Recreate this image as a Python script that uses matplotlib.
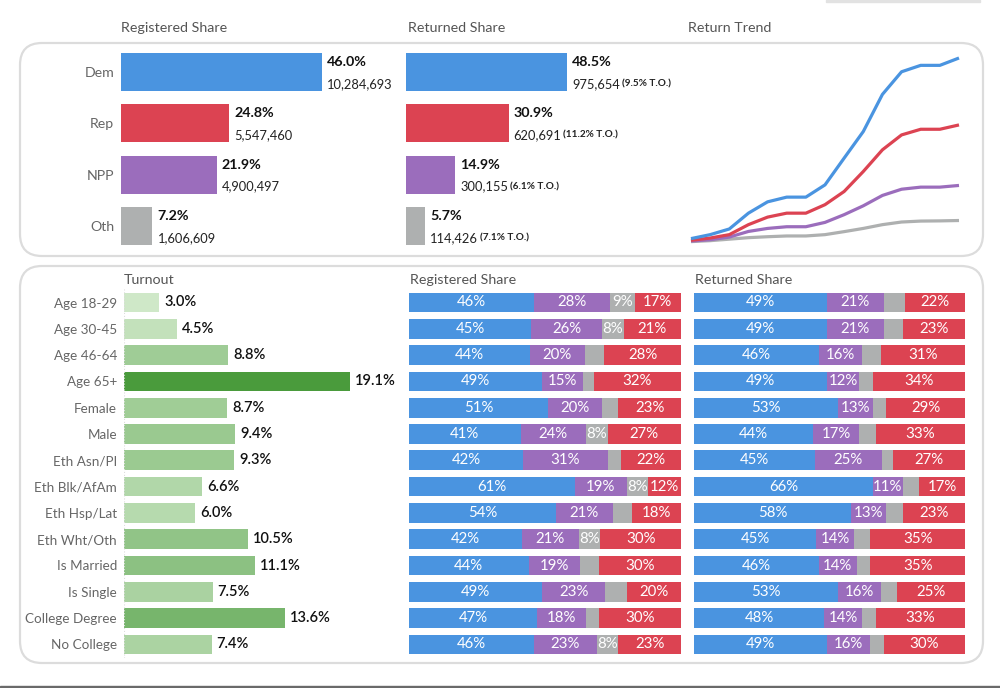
import numpy as np
import matplotlib
matplotlib.use('Agg')
import matplotlib.pyplot as plt
from matplotlib.patches import FancyBboxPatch, Rectangle
from matplotlib.transforms import IdentityTransform

plt.rcParams['font.family'] = ['Lato', 'DejaVu Sans']

W, H = 1000, 688

# ---- data ----
parties = ['Dem', 'Rep', 'NPP', 'Oth']
party_colors = ['#4A94E0', '#DC4352', '#9B6DBC', '#AEB0B0']

reg_share = [46.0, 24.8, 21.9, 7.2]
reg_count = [10284693, 5547460, 4900497, 1606609]
ret_share = [48.5, 30.9, 14.9, 5.7]
ret_count = [975654, 620691, 300155, 114426]
ret_turnout = [9.5, 11.2, 6.1, 7.1]

# cumulative returned ballots (thousands)
trend_dem = [18, 39, 69, 153, 213, 238, 238, 303, 445, 586, 783, 903, 937, 937, 976]
trend_rep = [9, 21, 39, 92, 132, 153, 153, 198, 268, 374, 489, 568, 598, 598, 621]
trend_npp = [5, 12, 26, 56, 72, 81, 81, 104, 145, 192, 247, 280, 291, 291, 300]
trend_oth = [2, 7, 15, 23, 28, 32, 32, 39, 55, 72, 92, 106, 111, 112, 114]

groups = ['Age 18-29', 'Age 30-45', 'Age 46-64', 'Age 65+', 'Female', 'Male',
          'Eth Asn/PI', 'Eth Blk/AfAm', 'Eth Hsp/Lat', 'Eth Wht/Oth',
          'Is Married', 'Is Single', 'College Degree', 'No College']
turnout = [3.0, 4.5, 8.8, 19.1, 8.7, 9.4, 9.3, 6.6, 6.0, 10.5, 11.1, 7.5, 13.6, 7.4]

reg_dem = [46, 45, 44, 49, 51, 41, 42, 61, 54, 42, 44, 49, 47, 46]
reg_npp = [28, 26, 20, 15, 20, 24, 31, 19, 21, 21, 19, 23, 18, 23]
reg_oth = [9, 8, 7, 4, 6, 8, 5, 8, 7, 8, 7, 8, 5, 8]
reg_rep = [17, 21, 28, 32, 23, 27, 22, 12, 18, 30, 30, 20, 30, 23]
reg_oth_shown = [True, True, False, False, False, True, False, True, False, True,
                 False, False, False, True]

ret_dem = [49, 49, 46, 49, 53, 44, 45, 66, 58, 45, 46, 53, 48, 49]
ret_npp = [21, 21, 16, 12, 13, 17, 25, 11, 13, 14, 14, 16, 14, 16]
ret_oth = [8, 7, 7, 5, 5, 6, 4, 6, 6, 6, 5, 6, 5, 5]
ret_rep = [22, 23, 31, 34, 29, 33, 27, 17, 23, 35, 35, 25, 33, 30]
ret_oth_shown = [False] * 14

fig = plt.figure(figsize=(W / 100, H / 100), dpi=100)
fig.patch.set_facecolor('white')


def px_axes(left, right, top, bottom):
    return fig.add_axes([left / W, 1 - bottom / H, (right - left) / W, (bottom - top) / H])


def row_axes(left, right, first, pitch, n):
    ax = px_axes(left, right, first - pitch / 2, first + (n - 0.5) * pitch)
    ax.set_ylim(n - 0.5, -0.5)
    for s in ax.spines.values():
        s.set_visible(False)
    ax.set_xticks([])
    ax.tick_params(axis='y', length=0)
    ax.patch.set_alpha(0)
    return ax


def panel(x0, y0, x1, y1):
    box = FancyBboxPatch((x0, H - y1), x1 - x0, y1 - y0,
                         boxstyle='round,pad=0,rounding_size=22',
                         transform=IdentityTransform(), facecolor='white',
                         edgecolor='#DCDCDC', linewidth=1.6, zorder=-5)
    fig.add_artist(box)


panel(20, 43, 983, 256)
panel(20, 266, 983, 663)
fig.add_artist(Rectangle((0, 0), W, 2, transform=IdentityTransform(),
                         color='#6A6A6A', zorder=-4))
fig.add_artist(Rectangle((826, H - 1.5), 154, 1.5, transform=IdentityTransform(),
                         color='#E2E2E2', zorder=-4))

title_kw = dict(va='center', fontsize=10.3, color='#555555')
fig.text(121 / W, 1 - 28 / H, 'Registered Share', **title_kw)
fig.text(408 / W, 1 - 28 / H, 'Returned Share', **title_kw)
fig.text(688 / W, 1 - 28 / H, 'Return Trend', **title_kw)
fig.text(124 / W, 1 - 280 / H, 'Turnout', **title_kw)
fig.text(410 / W, 1 - 280 / H, 'Registered Share', **title_kw)
fig.text(695 / W, 1 - 280 / H, 'Returned Share', **title_kw)

# ---- top: registered share ----
ypos = np.arange(len(parties))
ax1 = row_axes(121, 121 + 60 * 4.37, 72, 51.3, 4)
ax1.barh(ypos, reg_share, height=0.74, color=party_colors)
ax1.set_xlim(0, 60)
ax1.set_yticks(ypos)
ax1.set_yticklabels(parties, fontsize=10.2, color='#666666')
ax1.tick_params(axis='y', pad=5)
for i, (s, c) in enumerate(zip(reg_share, reg_count)):
    ax1.annotate(f'{s:.1f}%', (s, i), xytext=(5, 10), textcoords='offset pixels',
                 va='center', fontsize=10.3, fontweight='bold', color='#111111')
    ax1.annotate(f'{c:,}', (s, i), xytext=(5, -12), textcoords='offset pixels',
                 va='center', fontsize=9.3, color='#222222')

# ---- top: returned share ----
ax2 = row_axes(406, 406 + 60 * 3.32, 72, 51.3, 4)
ax2.barh(ypos, ret_share, height=0.74, color=party_colors)
ax2.set_xlim(0, 60)
ax2.set_yticks([])
for i, (s, c, t) in enumerate(zip(ret_share, ret_count, ret_turnout)):
    ax2.annotate(f'{s:.1f}%', (s, i), xytext=(5, 10), textcoords='offset pixels',
                 va='center', fontsize=10.3, fontweight='bold', color='#111111')
    t1 = ax2.annotate(f'{c:,}', (s, i), xytext=(5, -12), textcoords='offset pixels',
                      va='center', fontsize=9.3, color='#222222')
    ax2.annotate(f'({t}% T.O.)', xy=(1, 0.5), xycoords=t1, xytext=(2, 0),
                 textcoords='offset pixels', va='center', fontsize=7.2,
                 fontweight='bold', color='#222222')

# ---- top: return trend ----
ax3 = px_axes(691, 959, 58, 242)
steps = np.arange(len(trend_dem))
for vals, col in zip([trend_oth, trend_npp, trend_rep, trend_dem],
                     [party_colors[3], party_colors[2], party_colors[1], party_colors[0]]):
    ax3.plot(steps, vals, color=col, linewidth=2.3, solid_capstyle='butt', clip_on=False)
ax3.set_xlim(0, len(trend_dem) - 1)
ax3.set_ylim(0, max(trend_dem))
ax3.axis('off')

# ---- bottom: turnout ----
n = len(groups)
rows = np.arange(n)
light = np.array([207, 232, 200]) / 255
dark = np.array([74, 155, 60]) / 255
tmin, tmax = min(turnout), max(turnout)
greens = [light + (dark - light) * (t - tmin) / (tmax - tmin) for t in turnout]

ax4 = row_axes(124, 124 + 22 * 11.83, 302.5, 26.3, n)
ax4.barh(rows, turnout, height=0.75, color=greens)
ax4.axvline(0, color='#DDDDDD', lw=0.8, ls=':')
ax4.set_xlim(0, 22)
ax4.set_yticks(rows)
ax4.set_yticklabels(groups, fontsize=9.7, color='#666666')
ax4.tick_params(axis='y', pad=5)
for i, t in enumerate(turnout):
    ax4.annotate(f'{t:.1f}%', (t, i), xytext=(5, 0), textcoords='offset pixels',
                 va='center', fontsize=10.5, fontweight='semibold', color='#111111')


# ---- bottom: stacked shares ----
def stacked(left, right, dem, npp, oth, rep, oth_shown):
    ax = row_axes(left, right, 302.5, 26.3, n)
    ax.set_yticks([])
    ax.set_xlim(0, 100)
    segs = [dem, npp, oth, rep]
    cols = [party_colors[0], party_colors[2], party_colors[3], party_colors[1]]
    totals = np.sum(segs, axis=0)
    start = np.zeros(n)
    for k, (vals, col) in enumerate(zip(segs, cols)):
        w = np.array(vals) / totals * 100
        ax.barh(rows, w, left=start, height=0.75, color=col)
        for i in range(n):
            if k == 2 and not oth_shown[i]:
                continue
            ax.text(start[i] + w[i] / 2, i, f'{vals[i]}%', ha='center', va='center',
                    fontsize=10.8, color='white')
        start += w
    return ax


stacked(409, 681, reg_dem, reg_npp, reg_oth, reg_rep, reg_oth_shown)
stacked(694, 965, ret_dem, ret_npp, ret_oth, ret_rep, ret_oth_shown)

fig.savefig('out.png', dpi=100, facecolor='white')
